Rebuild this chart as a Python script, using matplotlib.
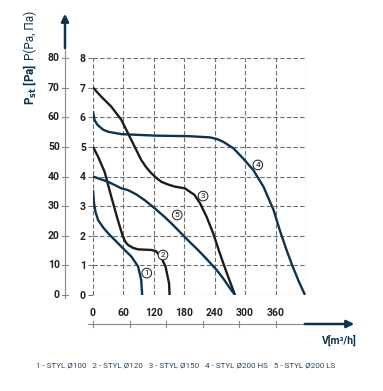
import matplotlib.pyplot as plt

plt.rcParams['font.family'] = ['Roboto', 'DejaVu Sans']

NAVY = '#0e3350'
BLACK = '#1c1c1c'
GRID = '#6f6f6f'
AXGRAY = '#8a8a8a'

# fan curves: V [m3/h], P [Pa]
v1 = [0, 2, 5, 10, 20, 30, 56, 76, 89, 95, 97]
p1 = [35.5, 31, 28, 25.3, 22.8, 20.8, 16.3, 12.9, 9.6, 5.1, 0]

v2 = [0, 10, 23, 36, 49, 59, 64, 69, 79, 89, 115, 124, 131, 137, 143, 150, 151]
p2 = [50, 46.7, 41.5, 33.2, 25.3, 19.7, 17.9, 16.9, 15.9, 15.4, 15.2, 14.8, 13.5, 11.8, 9.6, 3.9, 0]

v3 = [0, 16, 36, 56, 69, 82, 95, 105, 115, 125, 135, 148, 161, 181, 200, 211, 224, 237, 250, 264, 280]
p3 = [70, 67, 63.6, 59.1, 54.6, 50.1, 45.6, 43.1, 41.1, 39.5, 38.2, 37.3, 36.6, 36.0, 33.8, 31, 26.4, 20.8, 14.1, 7.3, 0]

v4 = [0, 3, 8, 13, 20, 30, 56, 122, 191, 231, 245, 257, 277, 296, 316, 336, 356, 369, 382, 394, 406, 418]
p4 = [62, 59.1, 57.6, 56.8, 55.8, 55.1, 54.3, 53.8, 53.6, 53.2, 52.6, 51.7, 49.5, 46.1, 42.2, 36.6, 28.7, 21.5, 15, 9.5, 4.5, 0]

v5 = [0, 30, 56, 69, 85, 102, 120, 141, 158, 174, 190, 207, 226, 244, 258, 270, 280]
p5 = [40, 38.2, 36, 35.4, 34, 32, 29.5, 26.4, 23.6, 20.8, 18, 15.2, 11.8, 8.4, 5.3, 2.3, 0]

curves = [(v1, p1, NAVY), (v2, p2, BLACK), (v3, p3, BLACK), (v4, p4, NAVY), (v5, p5, NAVY)]

# circled curve numbers
tag_names = ['1', '2', '3', '4', '5']
tag_v = [106, 138, 217, 325, 166]
tag_p = [7.4, 13.5, 33.4, 43.9, 27]

x_ticks = [0, 60, 120, 180, 240, 300, 360]
x_grid = [0, 60, 120, 180, 240, 300, 360, 420]
y_ticks = [0, 10, 20, 30, 40, 50, 60, 70, 80]
ls_ticks = [0, 20, 40, 60, 80, 100]  # outer scale in l/s

legend_text = '1 - STYL Ø100   2 - STYL Ø120   3 - STYL Ø150   4 - STYL Ø200 HS   5 - STYL Ø200 LS'

W, H = 383, 391
fig = plt.figure(figsize=(W / 100, H / 100), dpi=100)
ax = fig.add_axes([93 / W, 1 - 295 / H, 213 / W, 237 / H])
ax.set_xlim(0, 420)
ax.set_ylim(0, 80)
for s in ax.spines.values():
    s.set_visible(False)

# dashed grid
for v in x_grid:
    ax.axvline(v, color=GRID, lw=0.8, ls=(0, (4, 2)), zorder=1)
for p in y_ticks:
    ax.axhline(p, color=GRID, lw=0.8, ls=(0, (4, 2)), zorder=1)

for v, p, c in curves:
    ax.plot(v, p, color=c, lw=1.7, zorder=3, solid_capstyle='butt', solid_joinstyle='round')

for name, v, p in zip(tag_names, tag_v, tag_p):
    ax.text(v, p, name, ha='center', va='center', fontsize=6, color=BLACK, zorder=4,
            bbox=dict(boxstyle='circle,pad=0.22', fc='white', ec=BLACK, lw=0.7))

# inner tick labels
ax.set_xticks(x_ticks)
ax.set_xticklabels([str(v) for v in x_ticks], fontsize=7.5, fontweight='bold', color='#222222')
ax.tick_params(axis='x', length=0, pad=9)
ax.set_yticks(y_ticks)
ax.set_yticklabels([str(p // 10) for p in y_ticks], fontsize=7.5, fontweight='bold', color='#222222')
ax.tick_params(axis='y', length=3.6, width=0.7, color=GRID, pad=1.5)

# pixel -> data helpers for the outer axes
pxv = 213 / 420
pxp = 237 / 80
ya_x = -28 / pxv
xa_y = -29 / pxp

# outer vertical axis (Pa)
ax.plot([ya_x, ya_x], [-3 / pxp, 245 / pxp], color=AXGRAY, lw=0.8, clip_on=False)
ax.annotate('', xy=(ya_x, 284 / pxp), xytext=(ya_x, 244 / pxp),
            arrowprops=dict(arrowstyle='-|>', color=NAVY, lw=1.8, mutation_scale=11),
            annotation_clip=False)
for p in y_ticks:
    ax.plot([ya_x - 3 / pxv, ya_x + 3 / pxv], [p, p], color=AXGRAY, lw=0.8, clip_on=False)
    ax.text(ya_x - 5 / pxv, p, str(p), ha='right', va='center', fontsize=7.5,
            fontweight='bold', color='#222222')

# outer horizontal axis
ax.plot([-5 / pxv, 210 / pxv], [xa_y, xa_y], color=AXGRAY, lw=0.8, clip_on=False)
ax.annotate('', xy=(264 / pxv, xa_y), xytext=(209 / pxv, xa_y),
            arrowprops=dict(arrowstyle='-|>', color=NAVY, lw=1.8, mutation_scale=11),
            annotation_clip=False)
for q in ls_ticks:
    ax.plot([q * 3.6, q * 3.6], [xa_y - 3 / pxp, xa_y + 3 / pxp], color=AXGRAY, lw=0.8,
            clip_on=False)

ax.text(264 / pxv, -45 / pxp, 'V[m³/h]', ha='right', va='center', fontsize=7.5,
        fontweight='bold', color=NAVY)

# vertical axis title
fig.text(30 / W, 1 - 105 / H, 'P$_{\\mathbf{st}}$ [Pa]', rotation=90, ha='center', va='bottom',
         fontsize=8.5, fontweight='bold', color=NAVY)
fig.text(30 / W, 1 - 60 / H, 'P(Pa, Па)', rotation=90, ha='center', va='bottom',
         fontsize=8.5, color=NAVY)

fig.text(186 / W, 1 - 366 / H, legend_text, ha='center', va='center', fontsize=5.8,
         color='#2a4660')

fig.savefig('out.png', dpi=100)
